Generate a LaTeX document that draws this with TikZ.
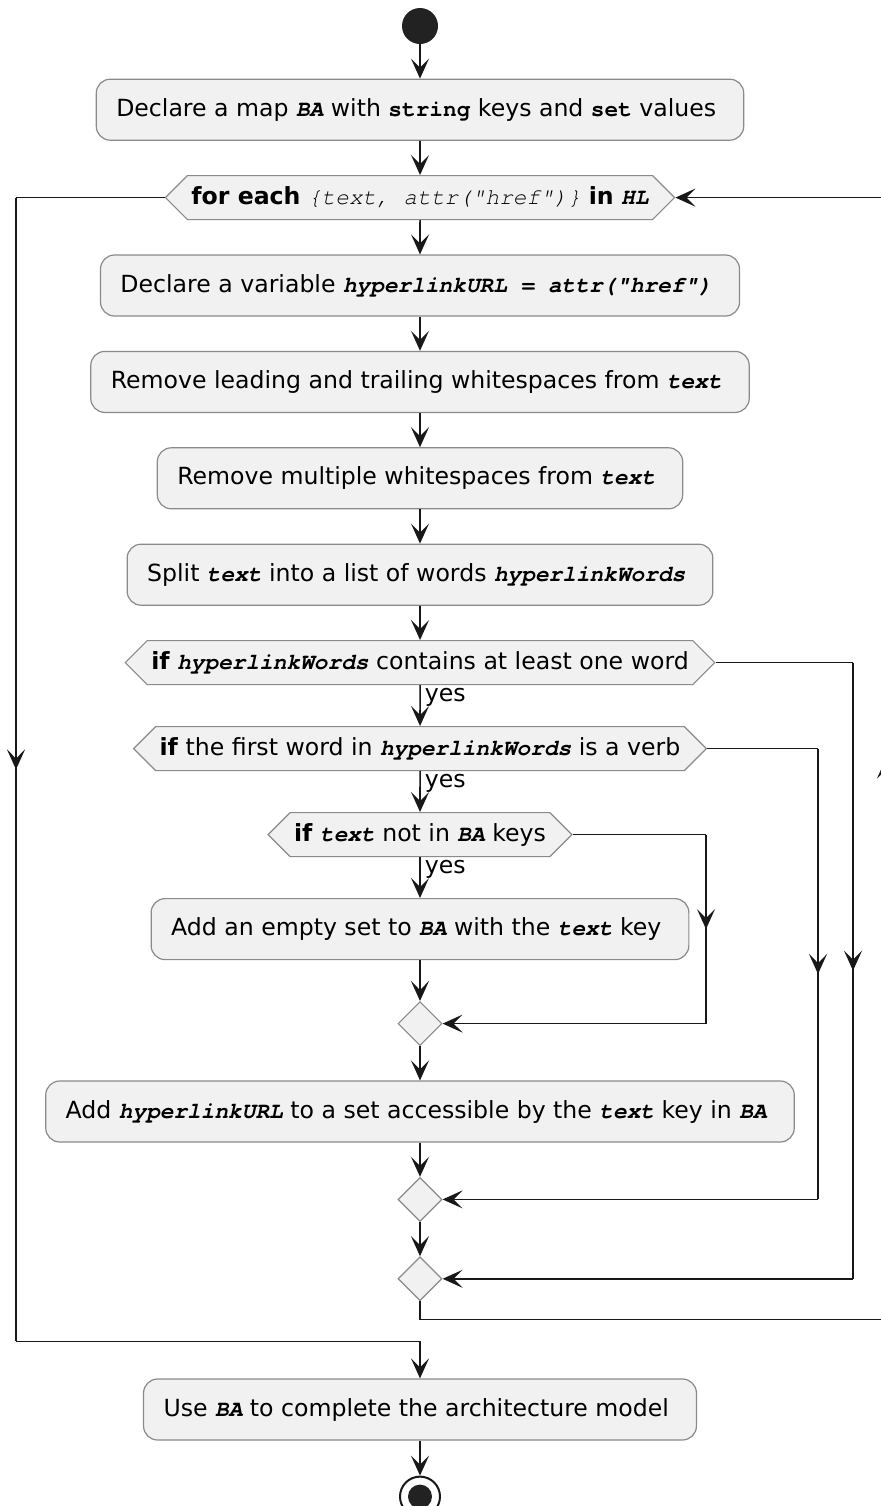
\documentclass[tikz,border=0pt]{standalone}
\usepackage{fontspec}
\setmainfont{DejaVu Sans}
\setmonofont[Scale=0.965]{TeX Gyre Cursor}
\usetikzlibrary{
  arrows.meta, positioning, calc,
  shapes.geometric, shapes.symbols, decorations.markings
}
\definecolor{lineA}{HTML}{181818}
\definecolor{edgeA}{HTML}{8A8A8A}
\definecolor{fillA}{HTML}{F1F1F1}
\definecolor{dotA}{HTML}{222222}
\newcommand{\vn}[1]{{\ttfamily\bfseries\itshape #1}}
\newcommand{\kw}[1]{{\ttfamily\bfseries #1}}
\newcommand{\itt}[1]{{\ttfamily\itshape #1}}
\tikzset{
  act/.style={
    draw=edgeA, fill=fillA, rounded corners=7pt,
    line width=0.6pt, align=center, inner xsep=10pt,
    minimum height=30.5pt, font=\fontsize{11.8}{14}\selectfont
  },
  cond/.style={
    signal, signal to=west and east, draw=edgeA, fill=fillA,
    line width=0.6pt, inner xsep=2pt, minimum height=22pt,
    font=\fontsize{11.8}{14}\selectfont
  },
  merge/.style={
    diamond, draw=edgeA, fill=fillA, line width=0.6pt,
    minimum width=22pt, minimum height=22pt, inner sep=0pt
  },
  wire/.style={line width=0.8pt, draw=lineA},
  arrow/.style={wire, -{Stealth[length=10pt, width=9pt, inset=4.5pt]}},
  midarrow/.style={
    wire, postaction={decorate},
    decoration={markings, mark=at position 0.5 with
      {\arrow{Stealth[length=10pt, width=9pt, inset=4.5pt]}}}
  },
  branch/.style={anchor=north west, inner sep=1pt, font=\fontsize{11.8}{14}\selectfont}
}

\begin{document}
\begin{tikzpicture}[x=0.5pt, y=-0.5pt, node distance=17.1pt]
  \useasboundingbox (0,0) rectangle (881,1506);
  \clip (0,0) rectangle (881,1506);

  % main column
  \node[circle, fill=dotA, minimum size=18pt, inner sep=0pt] (start) at (420,26) {};
  \node[act, below=of start] (decl) {
    Declare a map \vn{BA} with \kw{string} keys and \kw{set} values
  };
  \node[cond, below=of decl] (fe) {
    \textbf{for each} \itt{\{text, attr("href")\}} \textbf{in} \vn{HL}
  };
  \node[act, below=of fe] (url) {
    Declare a variable \vn{hyperlinkURL = attr("href")}
  };
  \node[act, below=of url] (trim) {
    Remove leading and trailing whitespaces from \vn{text}
  };
  \node[act, below=of trim] (squeeze) {
    Remove multiple whitespaces from \vn{text}
  };
  \node[act, below=of squeeze] (split) {
    Split \vn{text} into a list of words \vn{hyperlinkWords}
  };
  \node[cond, below=of split] (if1) {
    \textbf{if} \vn{hyperlinkWords} contains at least one word
  };
  \node[cond, below=20.4pt of if1] (if2) {
    \textbf{if} the first word in \vn{hyperlinkWords} is a verb
  };
  \node[cond, below=20.4pt of if2] (if3) {
    \textbf{if} \vn{text} not in \vn{BA} keys
  };
  \node[act, below=20.4pt of if3] (addset) {
    Add an empty set to \vn{BA} with the \vn{text} key
  };
  \node[merge, below=20.4pt of addset] (m1) {};
  \node[act, below=of m1] (addurl) {
    Add \vn{hyperlinkURL} to a set accessible by the \vn{text} key in \vn{BA}
  };
  \node[merge, below=of addurl] (m2) {};
  \node[merge, below=of m2] (m3) {};
  \node[act, below=38.5pt of m3] (use) {
    Use \vn{BA} to complete the architecture model
  };
  \node[circle, draw=lineA, line width=1pt, fill=white, minimum size=20pt,
    inner sep=0pt, below=17.5pt of use] (stop) {};
  \node[circle, fill=dotA, minimum size=12pt, inner sep=0pt] at (stop) {};

  % side lanes
  \coordinate (laneL) at (16,0);
  \coordinate (laneA) at (853,0);
  \coordinate (laneB) at (818,0);
  \coordinate (laneC) at (706,0);
  \coordinate (laneR) at (886,0);
  \coordinate (exitR) at ($(m3.south)+(0,-9pt)$);
  \coordinate (loopL) at ($(use.north)+(0,18.5pt)$);

  \foreach \a/\b in {start/decl, decl/fe, fe/url, url/trim, trim/squeeze,
    squeeze/split, split/if1, addset/m1, m1/addurl, addurl/m2, m2/m3, use/stop}
    \draw[arrow] (\a) -- (\b);
  \draw[arrow] (if1) -- (if2) node[branch, pos=0, xshift=1pt] {yes};
  \draw[arrow] (if2) -- (if3) node[branch, pos=0, xshift=1pt] {yes};
  \draw[arrow] (if3) -- (addset) node[branch, pos=0, xshift=1pt] {yes};

  % else branches into the merges
  \foreach \c/\l/\m in {if1/laneA/m3, if2/laneB/m2, if3/laneC/m1} {
    \draw[wire] (\c.east) -- (\c.east -| \l);
    \draw[midarrow] (\c.east -| \l) -- (\l |- \m.east);
    \draw[arrow] (\l |- \m.east) -- (\m.east);
  }

  % loop back and loop exit
  \draw[wire] (m3.south) |- (laneR |- exitR);
  \draw[midarrow] (laneR |- exitR) -- (laneR |- fe.east);
  \draw[arrow] (laneR |- fe.east) -- (fe.east);
  \draw[wire] (fe.west) -- (fe.west -| laneL);
  \draw[midarrow] (fe.west -| laneL) -- (laneL |- loopL);
  \draw[arrow] (laneL |- loopL) -| (use.north);
\end{tikzpicture}
\end{document}
